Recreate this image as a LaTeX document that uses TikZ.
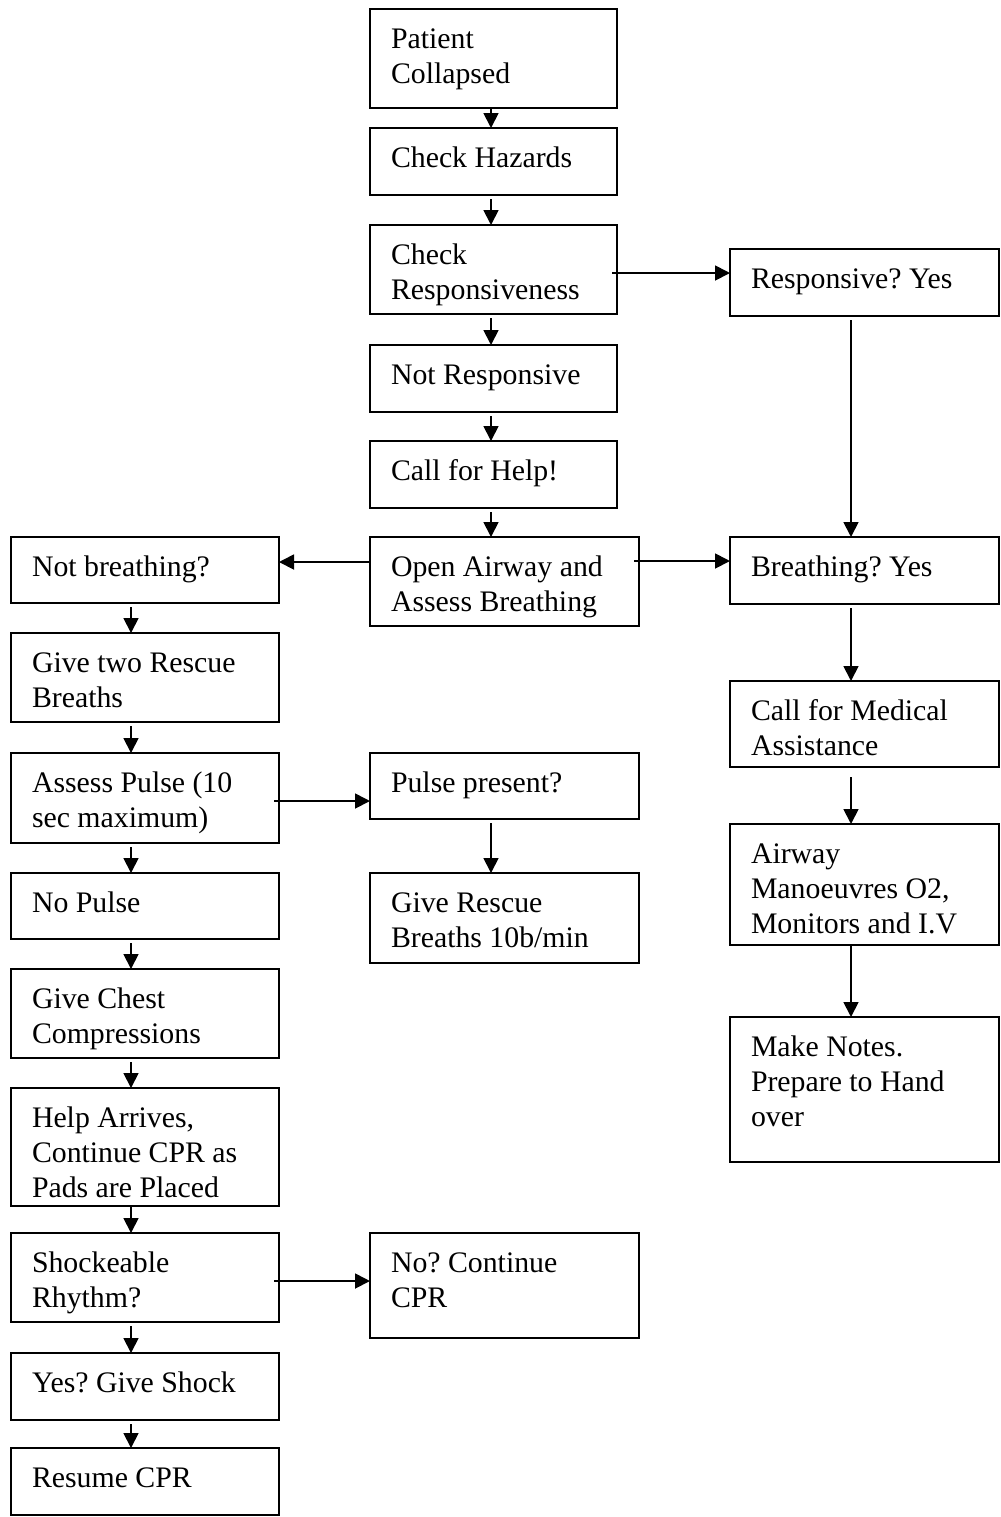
\documentclass[tikz,border=0pt]{standalone}
\usepackage{fontspec}
\setmainfont{Liberation Serif}
\usetikzlibrary{arrows.meta,calc}
\newdimen\px \px=0.5pt
\frenchspacing
\newcommand\bxt[3]{\begin{minipage}[t][#1\px][t]{#2\px}\frenchspacing\raggedright\leftskip=21\px\relax\fontsize{14.9pt}{17.5pt}\selectfont\rule{0pt}{39\px}#3\end{minipage}}
\tikzset{
  box/.style={draw, line width=1pt, inner sep=0pt, outer sep=0pt, anchor=north west},
  arr/.style={line width=0.9pt, -{Triangle[length=7.5pt,width=7.5pt]}},
  varr/.style={arr, shorten <=2pt},
  harr/.style={arr, shorten <=-2.5pt}
}
\begin{document}
\begin{tikzpicture}[x=0.5pt,y=-0.5pt]
\useasboundingbox (0,0) rectangle (1001,1517);
% centre column
\node[box] (pc) at (370,9) {\bxt{99}{247}{Patient\\Collapsed}};
\node[box] (ch) at (370,128) {\bxt{67}{247}{Check Hazards}};
\node[box] (cr) at (370,225) {\bxt{89}{247}{Check\\Responsiveness}};
\node[box] (nr) at (370,345) {\bxt{67}{247}{Not Responsive}};
\node[box] (cfh) at (370,441) {\bxt{67}{247}{Call for Help!}};
\node[box] (oa) at (370,537) {\bxt{89}{269}{Open Airway and\\Assess Breathing}};
\node[box] (pp) at (370,753) {\bxt{66}{269}{Pulse present?}};
\node[box] (grb) at (370,873) {\bxt{90}{269}{Give Rescue\\Breaths 10b/min}};
\node[box] (nc) at (370,1233) {\bxt{105}{269}{No? Continue\\CPR}};
% right column
\node[box] (ry) at (730,249) {\bxt{67}{269}{Responsive? Yes}};
\node[box] (by) at (730,537) {\bxt{67}{269}{Breathing? Yes}};
\node[box] (cma) at (730,681) {\bxt{86}{269}{Call for Medical\\Assistance}};
\node[box] (am) at (730,824) {\bxt{121}{269}{Airway\\Manoeuvres O2,\\Monitors and I.V}};
\node[box] (mn) at (730,1017) {\bxt{145}{269}{Make Notes.\\Prepare to Hand\\over}};
% left column
\node[box] (nb) at (11,537) {\bxt{66}{268}{Not breathing?}};
\node[box] (g2) at (11,633) {\bxt{89}{268}{Give two Rescue\\Breaths}};
\node[box] (ap) at (11,753) {\bxt{90}{268}{Assess Pulse (10\\sec maximum)}};
\node[box] (np) at (11,873) {\bxt{66}{268}{No Pulse}};
\node[box] (gcc) at (11,969) {\bxt{89}{268}{Give Chest\\Compressions}};
\node[box] (ha) at (11,1088) {\bxt{118}{268}{Help Arrives,\\Continue CPR as\\Pads are Placed}};
\node[box] (sr) at (11,1233) {\bxt{89}{268}{Shockeable\\Rhythm?}};
\node[box] (ys) at (11,1353) {\bxt{67}{268}{Yes? Give Shock}};
\node[box] (rc) at (11,1448) {\bxt{67}{268}{Resume CPR}};
% connector guides
\coordinate (lx) at (131,0);
\coordinate (cx) at (491,0);
\coordinate (rx) at (851,0);
\coordinate (r1) at (0,273);
\coordinate (r2) at (0,562);
\coordinate (r3) at (0,561);
\coordinate (r4) at (0,801);
\coordinate (r5) at (0,1281);
% centre vertical
\draw[arr] (pc.south -| cx) -- (ch.north -| cx);
\draw[varr] (ch.south -| cx) -- (cr.north -| cx);
\draw[varr] (cr.south -| cx) -- (nr.north -| cx);
\draw[varr] (nr.south -| cx) -- (cfh.north -| cx);
\draw[varr] (cfh.south -| cx) -- (oa.north -| cx);
\draw[varr] (pp.south -| cx) -- (grb.north -| cx);
% right vertical
\draw[varr] (ry.south -| rx) -- (by.north -| rx);
\draw[varr] (by.south -| rx) -- (cma.north -| rx);
\draw[arr, shorten <=5pt] (cma.south -| rx) -- (am.north -| rx);
\draw[arr] (am.south -| rx) -- (mn.north -| rx);
% left vertical
\draw[varr] (nb.south -| lx) -- (g2.north -| lx);
\draw[varr] (g2.south -| lx) -- (ap.north -| lx);
\draw[varr] (ap.south -| lx) -- (np.north -| lx);
\draw[varr] (np.south -| lx) -- (gcc.north -| lx);
\draw[varr] (gcc.south -| lx) -- (ha.north -| lx);
\draw[arr] (ha.south -| lx) -- (sr.north -| lx);
\draw[varr] (sr.south -| lx) -- (ys.north -| lx);
\draw[varr] (ys.south -| lx) -- (rc.north -| lx);
% horizontal
\draw[harr] (cr.east |- r1) -- (ry.west |- r1);
\draw[arr] (oa.west |- r2) -- (nb.east |- r2);
\draw[harr] (oa.east |- r3) -- (by.west |- r3);
\draw[harr] (ap.east |- r4) -- (pp.west |- r4);
\draw[harr] (sr.east |- r5) -- (nc.west |- r5);
\end{tikzpicture}
\end{document}
